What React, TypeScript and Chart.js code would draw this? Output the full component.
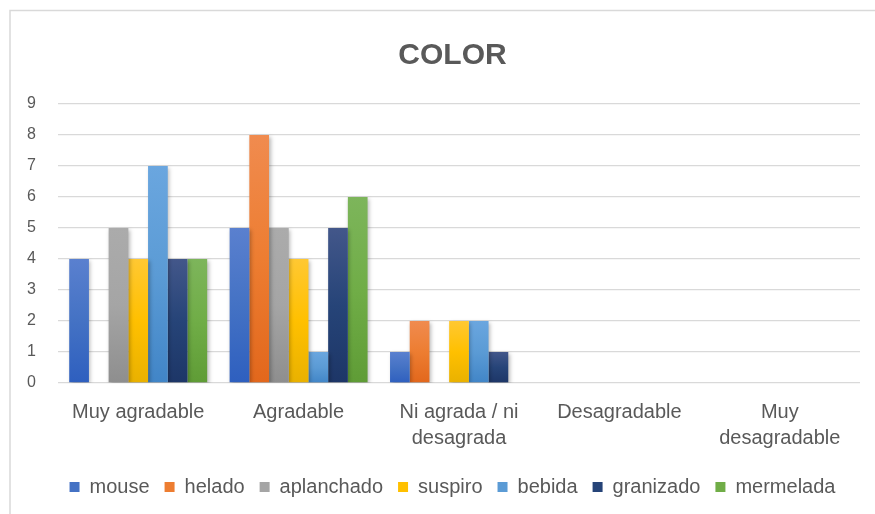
import React, { useEffect, useRef } from "react";
import { Chart, registerables, layouts } from "chart.js";
Chart.register(...registerables);

const categories: string[][] = [
  ["Muy agradable"],
  ["Agradable"],
  ["Ni agrada / ni", "desagrada"],
  ["Desagradable"],
  ["Muy", "desagradable"],
];
const seriesNames = ["mouse", "helado", "aplanchado", "suspiro", "bebida", "granizado", "mermelada"];
const mouse = [4, 5, 1, 0, 0];
const helado = [0, 8, 2, 0, 0];
const aplanchado = [5, 5, 0, 0, 0];
const suspiro = [4, 4, 2, 0, 0];
const bebida = [7, 1, 2, 0, 0];
const granizado = [4, 5, 1, 0, 0];
const mermelada = [4, 6, 0, 0, 0];
const seriesValues = [mouse, helado, aplanchado, suspiro, bebida, granizado, mermelada];
const yTicks = [0, 1, 2, 3, 4, 5, 6, 7, 8, 9];

const baseColors = ["#4472C4", "#ED7D31", "#A5A5A5", "#FFC000", "#5B9BD5", "#264478", "#70AD47"];
const topColors = ["#5a80cf", "#f08b4f", "#ababab", "#ffc832", "#6aa6df", "#43578a", "#7db55b"];
const bottomColors = ["#2e5fbf", "#e2671c", "#8e8e8e", "#e9b100", "#4185c7", "#1d3667", "#5f9c36"];

const FONT = "'Liberation Sans', Arial, sans-serif";
const TEXT = "#595959";

export default function App() {
  const ref = useRef<HTMLCanvasElement>(null);
  useEffect(() => {
    if (!ref.current) return;
    const spacerPlugin = {
      id: "rightSpacer",
      beforeInit(chart: any) {
        const box: any = {
          position: "right",
          weight: 100,
          fullSize: false,
          options: { position: "right", weight: 100, fullSize: false },
          left: 0,
          top: 0,
          right: 0,
          bottom: 0,
          width: 45,
          height: 0,
          isHorizontal() {
            return false;
          },
          update(maxWidth: number, maxHeight: number) {
            this.width = 45;
            this.height = maxHeight;
          },
          draw() {},
        };
        layouts.addBox(chart, box);
      },
    };
    const framePlugin = {
      id: "frame",
      beforeDraw(chart: any) {
        const c = chart.ctx;
        c.save();
        c.fillStyle = "#ffffff";
        c.fillRect(0, 0, chart.width, chart.height);
        c.strokeStyle = "#d9d9d9";
        c.lineWidth = 1.5;
        c.strokeRect(10, 10.5, 900, 600);
        c.restore();
      },
      beforeDatasetsDraw(chart: any) {
        const c = chart.ctx;
        c.save();
        c.shadowColor = "rgba(0,0,0,0.28)";
        c.shadowBlur = 4;
        c.shadowOffsetX = 1.5;
        c.shadowOffsetY = 1.5;
      },
      afterDatasetsDraw(chart: any) {
        chart.ctx.restore();
      },
    };
    const chart = new Chart(ref.current, {
      type: "bar",
      data: {
        labels: categories,
        datasets: seriesNames.map((name, i) => ({
          label: name,
          data: seriesValues[i],
          backgroundColor: (ctx: any) => {
            const ch = ctx.chart;
            const ys = ch.scales?.y;
            if (!ys || ctx.raw == null) return baseColors[i];
            const t = ys.getPixelForValue(ctx.raw);
            const b = ys.getPixelForValue(0);
            if (!isFinite(t) || !isFinite(b) || t === b) return baseColors[i];
            const g = ch.ctx.createLinearGradient(0, t, 0, b);
            g.addColorStop(0, topColors[i]);
            g.addColorStop(0.5, baseColors[i]);
            g.addColorStop(1, bottomColors[i]);
            return g;
          },
          borderWidth: 0,
          barPercentage: 1.0,
          categoryPercentage: 0.86,
        })),
      },
      options: {
        animation: false,
        responsive: false,
        maintainAspectRatio: false,
        layout: { padding: { left: 0, right: 0, top: 0, bottom: 7 } },
        plugins: {
          title: {
            display: true,
            text: "COLOR",
            color: TEXT,
            font: { family: FONT, size: 30, weight: "bold" },
            padding: { top: 38, bottom: 30 },
          },
          legend: {
            position: "bottom",
            labels: {
              color: TEXT,
              font: { family: FONT, size: 20 },
              boxWidth: 10,
              boxHeight: 10,
              padding: 15,
              generateLabels: (chart: any) =>
                chart.data.datasets.map((d: any, i: number) => ({
                  text: d.label,
                  fillStyle: baseColors[i],
                  strokeStyle: baseColors[i],
                  lineWidth: 0,
                  fontColor: TEXT,
                  datasetIndex: i,
                  hidden: false,
                })),
            },
          },
          tooltip: { enabled: false },
        },
        scales: {
          x: {
            grid: { display: false, drawTicks: false },
            border: { display: false },
            ticks: {
              color: TEXT,
              font: { family: FONT, size: 20, lineHeight: 1.3 },
              padding: 16,
              maxRotation: 0,
              autoSkip: false,
            },
            afterFit: (s: any) => {
              s.height = 79;
            },
          },
          y: {
            min: 0,
            max: 9,
            afterBuildTicks: (s: any) => {
              s.ticks = yTicks.map((v) => ({ value: v }));
            },
            grid: { color: "#d9d9d9", lineWidth: 1.3, drawTicks: false },
            border: { display: false },
            ticks: {
              color: TEXT,
              font: { family: FONT, size: 16 },
              padding: 22,
            },
            afterFit: (s: any) => {
              s.width = 58;
            },
          },
        },
      },
      plugins: [spacerPlugin, framePlugin],
    } as any);
    return () => chart.destroy();
  }, []);
  return (
    <div style={{ position: "fixed", left: 0, top: 0, width: 875, height: 514, overflow: "hidden", background: "#fff" }}>
      <canvas ref={ref} width={905} height={514} style={{ width: 905, height: 514, display: "block" }} />
    </div>
  );
}
